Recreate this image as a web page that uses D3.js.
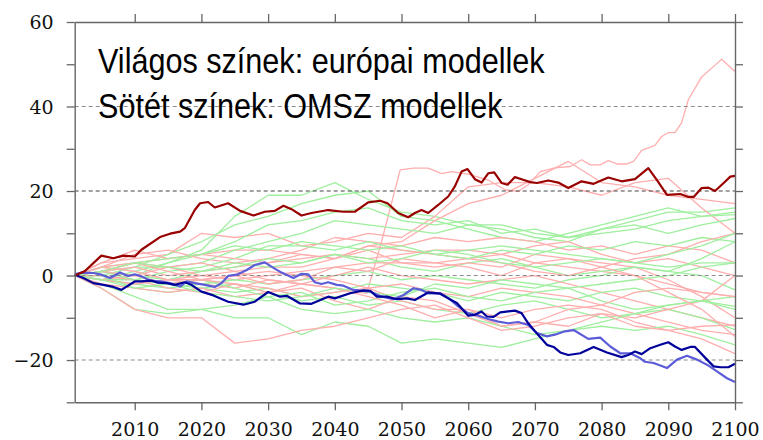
<!DOCTYPE html>
<html>
<head>
<meta charset="utf-8">
<script src="https://cdn.jsdelivr.net/npm/d3@7"></script>
<style>
  html, body { margin: 0; padding: 0; background: #fff; }
  svg { display: block; }
</style>
</head>
<body>
<svg id="chart" width="763" height="440"></svg>
<script>
// ---- data -------------------------------------------------------------
// Light runs (European models), sampled every five years
const lightYears = [2001, 2005, 2010, 2015, 2020, 2025, 2030, 2035, 2040, 2045, 2050,
                    2055, 2060, 2065, 2070, 2075, 2080, 2085, 2090, 2095, 2100];

const pinkRuns = [
  [0, 3, 4, 5, 10, 9, 10, 7, 8, 10, 9, 14, 21, 22, 22, 21, 19, 22, 23, 16, 10],
  [0, 1, 3, 4, 5, 6, 6, 5, 4, 7, 8, 13, 17, 19, 23, 27, 22, 21, 19, 18, 17],
  [0, 2, 5, 6, 4, 3, 4, 6, 9, 8, 7, 9, 8, 9, 8, 6, 7, 5, 7, 6, 3],
  [0, 1, 2, 0, 1, 2, 3, 4, 5, 4, 5, 6, 6, 5, 7, 8, 5, 3, 4, 2, 0],
  [0, -1, 0, 2, 3, 1, 2, 2, 4, 6, 3, 3, 4, 5, 3, 2, 1, 0, -2, -4, -5],
  [0, 1, 3, 2, 0, -1, 0, 1, 2, 3, 3, 2, 3, 2, 5, 4, 3, 2, -1, -5, -10],
  [0, 2, 1, -1, -2, -3, -1, -2, 0, 2, 0, -1, -2, -1, 0, -2, -4, -6, -8, -10, -12],
  [0, -1, -2, -1, -1, 0, 1, 0, -1, -3, -2, -4, -5, -3, -4, -5, -7, -9, -11, -13, -14],
  [0, 0, -1, -3, -4, -2, -3, -5, -4, -3, -6, -8, -8, -10, -8, -7, -8, -11, -13, -15, -18.5],
  [0, -2, -3, -4, -3, -5, -4, -3, -6, -8, -5, -6, -9, -12, -11, -12, -9, -10, -8, -6, 0],
  [0, -3, -8, -10, -10, -16, -15, -13, -12, -10, -8, -7, -10, -13, -12, -10, -9, -12, -13, -12, -11.7],
  [0, 1, 0, -2, -1, -2, -4, -2, -3, -5, -7, -10, -8, -12, -11, -8, -7, -4, -3, -4, -5],
  [0, 3, 6, 4, 5, 4, 3, 5, 4, 7, 6, 5, 4, 3, 1, 0, 2, 0, -4, -8, -14.4],
  [0, 2, 3, 1, -1, 0, -2, -1, 2, 1, 4, 3, 2, 0, 3, 4, 2, 4, 5, 8, 10]
];

// The one European run that climbs far above the rest
const pinkHighYears = [2001, 2005, 2010, 2015, 2020, 2025, 2030, 2035, 2040, 2044.8, 2047, 2049.8,
  2051.8, 2054, 2056, 2057.5, 2060, 2063, 2065.5, 2067.5, 2069, 2070.8, 2073, 2075.3, 2077,
  2078.3, 2079.8, 2081, 2082.3, 2083.8, 2084.8, 2086, 2088, 2089, 2090, 2091, 2092, 2093,
  2095, 2096.8, 2098, 2100];
const pinkHighValues = [0, 2, 1, -1, 0, 1, -1, -2, -3, -4.2, 8, 25,
  25.4, 25.4, 24.1, 24.6, 24, 22.6, 20.3, 19.9, 21.5, 24.6, 25.5, 25.8, 27.4,
  26.2, 26.2, 27.2, 26.4, 26.4, 27, 29.6, 30.8, 32.9, 33.8, 33.8, 36.2, 41.6,
  47, 49.5, 51.2, 48.3];

const greenRuns = [
  [0, 1, 0, 3, 6, 14, 19, 19, 22, 18, 15, 14, 12, 12, 10, 9, 11, 13, 15, 15, 16],
  [0, 0, 2, 5, 8, 12, 14, 17, 19, 20, 14, 13, 11, 9, 8, 10, 12, 14, 16, 14, 15],
  [0, -1, 1, 3, 5, 8, 12, 13, 15, 16, 13, 12, 13, 10, 11, 9, 10, 11, 13, 14, 14.4],
  [0, 1, 2, 2, 3, 6, 8, 10, 13, 12, 11, 10, 12, 11, 9, 8, 11, 12, 10, 12, 13.5],
  [0, 0, -1, 1, 2, 4, 7, 7, 6, 8, 6, 5, 6, 7, 6, 5, 4, 3, 2, 3, 3],
  [0, 1, 0, -1, 1, 3, 2, 3, 5, 4, 2, 1, 3, 4, 2, 0, 1, 2, 1, 4, 8],
  [0, -1, -2, -3, -2, -1, -2, -1, 0, 1, -1, 0, -1, -2, -3, -1, 0, 2, 1, 0, -3.4],
  [0, -1, -1, -2, -3, -4, -3, -5, -4, -2, -3, -4, -6, -4, -5, -6, -4, -3, -5, -6, -7.3],
  [0, 0, -3, -4, -3, -2, -4, -6, -5, -7, -6, -8, -9, -7, -6, -8, -10, -9, -8, -10, -12.8],
  [0, -2, -5, -8, -8, -10, -10, -14, -11, -12, -16, -15, -16, -17, -15, -13, -12, -13, -12, -14, -16.4],
  [0, -3, -8, -9, -8, -7, -5, -8, -9, -8, -10, -11, -10, -12, -14, -13, -11, -9, -7, -6, -8],
  [0, 1, -1, -2, -1, -3, -5, -4, -7, -6, -4, -3, -5, -6, -4, -3, -6, -8, -7, -6, -5],
  [0, -1, -3, -2, -4, -5, -6, -5, -3, -4, -5, -2, -3, -1, -2, -3, -2, -1, 0, 2, 3],
  [0, 2, 3, 4, 5, 7, 6, 8, 7, 6, 7, 5, 4, 6, 5, 7, 6, 8, 7, 9, 8],
  [0, 1, 3, 2, 1, 2, 4, 3, 5, 3, 4, 6, 5, 3, 2, 3, 4, 3, 5, 7, 10]
];

// Dark runs (OMSZ models)
const redYears = [2001, 2002.5, 2005, 2006.8, 2008.3, 2010, 2011, 2013.8, 2015.3, 2016.8, 2017.5,
  2019, 2019.8, 2021, 2022, 2024, 2025.8, 2027.8, 2029.5, 2031, 2032.3, 2033.5, 2035, 2036.5,
  2039, 2041.3, 2043, 2045, 2046.8, 2047.9, 2049.5, 2051, 2052, 2053, 2054, 2055.5, 2057, 2058,
  2059, 2059.9, 2061, 2062, 2063, 2063.9, 2065, 2065.9, 2067, 2068, 2069.3, 2070.3, 2072, 2073.5,
  2075, 2077, 2078.8, 2081, 2083, 2085, 2087, 2088.3, 2089.8, 2091.8, 2093, 2093.8, 2095, 2096,
  2097, 2098.3, 2099.3, 2100];
const redValues = [0, 1.0, 4.7, 4.1, 4.7, 4.5, 6.1, 9.1, 9.9, 10.4, 11.2,
  15.5, 17.1, 17.4, 16.1, 17.1, 15.3, 14.2, 15.1, 15.3, 16.5, 15.7, 14.2, 14.8,
  15.5, 15.1, 15.1, 17.3, 17.7, 17.1, 14.8, 13.8, 14.8, 15.5, 14.8, 16.7, 18.7, 21.1,
  24.6, 25.2, 22.8, 22.0, 24.2, 24.4, 21.9, 21.5, 23.3, 22.8, 22.1, 21.9, 22.5, 22.0,
  20.7, 22.3, 21.7, 23.2, 22.3, 22.8, 25.4, 22.6, 19.1, 19.3, 18.6, 18.6, 20.7, 20.8,
  20.0, 21.9, 23.4, 23.6];

const navyYears = [2001, 2002.3, 2003.8, 2005.3, 2006.8, 2008, 2010, 2011, 2012.5, 2013.5, 2014.8,
  2016, 2017.5, 2018.5, 2020, 2021.8, 2024, 2026.3, 2028, 2030, 2031.8, 2032.8, 2034.8, 2036.5,
  2039, 2040, 2042.3, 2044.3, 2045.3, 2046.3, 2047.8, 2049.3, 2050.8, 2052, 2054, 2055.8, 2057,
  2058.3, 2060, 2061, 2062, 2062.8, 2063.8, 2064.8, 2066, 2067, 2068, 2069, 2070, 2071.8, 2072.8,
  2073.8, 2075, 2076.8, 2078.8, 2080.8, 2083, 2084, 2085, 2086, 2087.3, 2088.8, 2090, 2091, 2092,
  2093.3, 2094, 2095.8, 2096.8, 2097.8, 2099, 2100];
const navyValues = [0.2, -0.6, -1.8, -2.2, -2.7, -3.4, -1.4, -1.4, -1.2, -1.7, -1.8,
  -2.2, -1.6, -2.2, -3.8, -4.7, -6.2, -6.9, -6.2, -3.9, -5.0, -4.8, -6.6, -6.7,
  -5.0, -5.4, -4.2, -3.5, -3.6, -5.0, -5.0, -5.6, -5.4, -5.8, -4.0, -4.3, -5.4,
  -6.5, -9.5, -9.3, -8.5, -9.7, -9.8, -8.7, -8.5, -8.3, -8.9, -11.3, -13.2, -16.4, -16.9,
  -18.2, -18.8, -18.4, -16.9, -18.2, -19.3, -18.8, -18.0, -18.6, -17.2, -16.4, -15.8, -16.8, -17.6,
  -16.9, -16.9, -19.9, -21.5, -21.7, -21.7, -20.9];

const blueYears = [2001, 2002, 2003.8, 2005, 2006.3, 2007.8, 2009, 2010, 2011, 2012.3, 2013.8,
  2015.3, 2016.8, 2017.8, 2019, 2020.5, 2022, 2023, 2024, 2025.3, 2026.8, 2028, 2029.5, 2030.5,
  2032, 2033.8, 2035, 2036, 2037, 2038, 2039, 2040.3, 2041.3, 2042.8, 2045.3, 2047, 2048.8,
  2050.3, 2051.8, 2053, 2054, 2055.8, 2057, 2058.5, 2060, 2061.5, 2063, 2064.5, 2066, 2067.5,
  2069, 2070.3, 2071.8, 2073, 2074.5, 2075.8, 2078, 2079.8, 2081.3, 2082.8, 2084.3, 2085.8,
  2086.5, 2087.8, 2089.8, 2091.3, 2092.8, 2094.3, 2095.8, 2097.3, 2098.8, 2100];
const blueValues = [0.3, 0.7, 0.6, 0.2, -0.6, 0.7, -0.1, 0.3, -0.2, -1.2, -1.4,
  -1.8, -2.6, -1.4, -1.8, -2.2, -2.7, -1.8, -0.1, 0.2, 1.3, 2.5, 3.1, 2.1,
  0.7, -0.6, 0.4, 0.3, -1.6, -2.0, -1.6, -2.2, -2.4, -3.4, -3.8, -5.0, -5.6,
  -4.6, -3.0, -3.4, -4.2, -4.2, -5.3, -7.3, -8.9, -9.5, -10.3, -10.9, -11.3, -11.0,
  -11.7, -13.6, -14.4, -14.0, -13.2, -12.9, -15.0, -14.7, -16.8, -18.4, -18.4, -19.6,
  -20.4, -20.7, -21.9, -19.9, -19.0, -19.9, -21.1, -22.7, -24.3, -25.2];

// Axis ticks and labels
const xTickYears = [2010, 2020, 2030, 2040, 2050, 2060, 2070, 2080, 2090, 2100];
const yTickValues = [-30, -20, -10, 0, 10, 20, 30, 40, 50, 60];
const yLabelValues = [-20, 0, 20, 40, 60];
const gridValues = [40, 20, 0, -20];
const titleLines = ["Világos színek: európai modellek", "Sötét színek: OMSZ modellek"];

// ---- drawing ----------------------------------------------------------
const svg = d3.select("#chart");
const plotLeft = 74.7, plotRight = 735, plotTop = 22, plotBottom = 402.3;

const x = d3.scaleLinear().domain([2001, 2100]).range([plotLeft, plotRight]);
const y = d3.scaleLinear().domain([-30, 60]).range([plotBottom, plotTop]);

const line = d3.line().x(d => x(d[0])).y(d => y(d[1]));
const pairs = (years, vals) => years.map((yr, i) => [yr, vals[i]]);

const pinkColor = "#ffaeae", greenColor = "#9fef9f";
const plot = svg.append("g");

// Interleave pink and green runs so neither colour sits entirely on top
const lightGroup = plot.append("g").attr("fill", "none").attr("stroke-width", 1.3)
  .attr("stroke-linejoin", "round");
lightGroup.append("path").attr("d", line(pairs(pinkHighYears, pinkHighValues)))
  .attr("stroke", pinkColor);
const maxRuns = Math.max(pinkRuns.length, greenRuns.length);
for (let i = 0; i < maxRuns; i++) {
  if (greenRuns[i]) lightGroup.append("path")
    .attr("d", line(pairs(lightYears, greenRuns[i]))).attr("stroke", greenColor);
  if (pinkRuns[i]) lightGroup.append("path")
    .attr("d", line(pairs(lightYears, pinkRuns[i]))).attr("stroke", pinkColor);
}

// Dashed reference lines
plot.append("g").selectAll("line").data(gridValues).join("line")
  .attr("x1", plotLeft).attr("x2", plotRight)
  .attr("y1", d => y(d)).attr("y2", d => y(d))
  .attr("stroke", d => d === 20 ? "#444" : "#8c8c8c")
  .attr("stroke-width", 1.1)
  .attr("stroke-dasharray", "4,3");

// Dark runs
const darkGroup = plot.append("g").attr("fill", "none").attr("stroke-linejoin", "round");
darkGroup.append("path").attr("d", line(pairs(blueYears, blueValues)))
  .attr("stroke", "#5c5cd8").attr("stroke-width", 2.2);
darkGroup.append("path").attr("d", line(pairs(navyYears, navyValues)))
  .attr("stroke", "#00009a").attr("stroke-width", 2.2);
darkGroup.append("path").attr("d", line(pairs(redYears, redValues)))
  .attr("stroke", "#990000").attr("stroke-width", 2.2);

// Axes
const axisColor = "#666";
const labelFont = "'DejaVu Serif', 'Liberation Serif', serif";

const styleAxis = g => {
  g.attr("font-family", null);
  g.select(".domain").attr("stroke", axisColor).attr("stroke-width", 1.4);
  g.selectAll(".tick line").attr("stroke", axisColor).attr("stroke-width", 1.3);
  g.selectAll(".tick text").attr("fill", "#111").style("font-family", labelFont)
    .style("font-size", "19px");
};

svg.append("g").attr("transform", `translate(${plotLeft},0)`)
  .call(d3.axisLeft(y).tickValues(yTickValues).tickSize(8).tickSizeOuter(0).tickPadding(13)
    .tickFormat(d => yLabelValues.includes(d) ? d3.format("d")(d) : ""))
  .call(styleAxis)
  .call(g => g.selectAll(".tick text").attr("dy", "0.36em"));

svg.append("g").attr("transform", `translate(${plotRight},0)`)
  .call(d3.axisRight(y).tickValues(yTickValues).tickSize(8).tickSizeOuter(0).tickFormat(""))
  .call(styleAxis);

svg.append("g").attr("transform", `translate(0,${plotBottom})`)
  .call(d3.axisBottom(x).tickValues(xTickYears).tickSize(8).tickSizeOuter(0).tickPadding(12)
    .tickFormat(d3.format("d")))
  .call(styleAxis);

svg.append("g").attr("transform", `translate(0,${plotTop})`)
  .call(d3.axisTop(x).tickValues(xTickYears).tickSize(8).tickSizeOuter(0).tickFormat(""))
  .call(styleAxis);

// Title block, slightly condensed sans-serif
const titleBase = [73, 118];
titleLines.forEach((t, i) => {
  svg.append("text")
    .attr("transform", `translate(98,${titleBase[i]}) scale(0.85,1)`)
    .style("font-family", "'Liberation Sans', Arial, sans-serif")
    .style("font-size", "36px")
    .attr("fill", "#000")
    .text(t);
});
</script>
</body>
</html>
